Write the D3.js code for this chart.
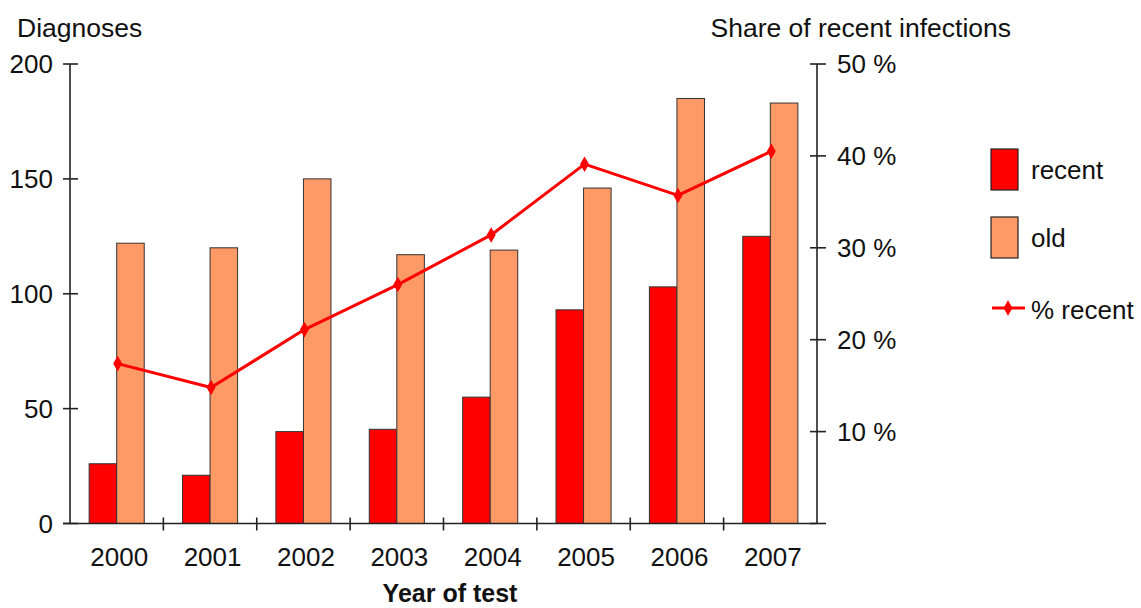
<!DOCTYPE html>
<html>
<head>
<meta charset="utf-8">
<script src="https://cdn.jsdelivr.net/npm/d3@7"></script>
<style>
  html, body { margin: 0; padding: 0; background: #fff; }
  svg { display: block; font-family: "Liberation Sans", Arial, sans-serif; }
</style>
</head>
<body>
<svg id="chart" width="1141" height="608"></svg>
<script>
const years = ["2000", "2001", "2002", "2003", "2004", "2005", "2006", "2007"];
const recent = [26, 21, 40, 41, 55, 93, 103, 125];
const old = [122, 120, 150, 117, 119, 146, 185, 183];
const pctRecent = [17.4, 14.8, 21.1, 26.0, 31.4, 39.1, 35.7, 40.5];
const leftTicks = [0, 50, 100, 150, 200];
const rightTicks = [0, 10, 20, 30, 40, 50];
const seriesNames = ["recent", "old"];
const seriesColors = ["#FF0000", "#FF9966"];
const lineColor = "#FF0000";

(function () {
const svg = d3.select("#chart");
const pLeft = 70, pRight = 817, pTop = 64, pBottom = 523.5;
const fs = 26;
const fsT = 26.5;

const x = d3.scaleBand().domain(years).range([pLeft, pRight]).paddingInner(0).paddingOuter(0);
const bw = x.bandwidth();
const xs = d3.scaleBand().domain(seriesNames).range([bw * 0.205, bw * 0.795]).padding(0);
const yL = d3.scaleLinear().domain([0, 200]).range([pBottom, pTop]);
const yR = d3.scaleLinear().domain([0, 50]).range([pBottom, pTop]);

// bars
const data = years.map((yr, i) => ({ year: yr, recent: recent[i], old: old[i] }));
const g = svg.append("g");
seriesNames.forEach((s, si) => {
  g.selectAll("rect." + s).data(data).enter().append("rect")
    .attr("class", s)
    .attr("x", d => x(d.year) + xs(s))
    .attr("width", xs.bandwidth())
    .attr("y", d => yL(d[s]))
    .attr("height", d => yL(0) - yL(d[s]))
    .attr("fill", seriesColors[si])
    .attr("stroke", "#333")
    .attr("stroke-width", 1);
});

const axisColor = "#222";
// left axis
const la = svg.append("g").attr("transform", `translate(${pLeft},0)`);
la.append("line").attr("x1", 0).attr("x2", 0).attr("y1", yL(200)).attr("y2", yL(0))
  .attr("stroke", axisColor).attr("stroke-width", 1.6);
la.selectAll("line.t").data(leftTicks).enter().append("line").attr("class", "t")
  .attr("x1", -7).attr("x2", 8).attr("y1", d => yL(d)).attr("y2", d => yL(d))
  .attr("stroke", axisColor).attr("stroke-width", 1.6);
la.selectAll("text").data(leftTicks).enter().append("text")
  .attr("x", -17).attr("y", d => yL(d)).attr("dy", "0.36em")
  .attr("text-anchor", "end").attr("font-size", fs).attr("fill", "#111")
  .text(d => d);

// right axis
const ra = svg.append("g").attr("transform", `translate(${pRight},0)`);
ra.append("line").attr("x1", 0).attr("x2", 0).attr("y1", yR(50)).attr("y2", yR(0))
  .attr("stroke", axisColor).attr("stroke-width", 1.6);
ra.selectAll("line.t").data(rightTicks).enter().append("line").attr("class", "t")
  .attr("x1", -7).attr("x2", 9).attr("y1", d => yR(d)).attr("y2", d => yR(d))
  .attr("stroke", axisColor).attr("stroke-width", 1.6);
ra.selectAll("text").data(rightTicks.filter(d => d > 0)).enter().append("text")
  .attr("x", 20).attr("y", d => yR(d)).attr("dy", "0.36em")
  .attr("text-anchor", "start").attr("font-size", fs).attr("fill", "#111")
  .text(d => d + " %");

// x axis
const xa = svg.append("g");
xa.append("line").attr("x1", pLeft - 7).attr("x2", pRight).attr("y1", pBottom).attr("y2", pBottom)
  .attr("stroke", axisColor).attr("stroke-width", 1.6);
xa.selectAll("line.t").data(years.slice(1)).enter().append("line").attr("class", "t")
  .attr("x1", d => x(d)).attr("x2", d => x(d)).attr("y1", pBottom - 6).attr("y2", pBottom + 7)
  .attr("stroke", axisColor).attr("stroke-width", 1.6);
xa.selectAll("text").data(years).enter().append("text")
  .attr("x", d => x(d) + bw / 2 + 2.5).attr("y", 566)
  .attr("text-anchor", "middle").attr("font-size", fs).attr("fill", "#111")
  .text(d => d);

// titles
svg.append("text").attr("x", 17).attr("y", 37).attr("font-size", fsT).attr("fill", "#111").text("Diagnoses");
svg.append("text").attr("x", 1011).attr("y", 37).attr("text-anchor", "end").attr("font-size", fsT).attr("fill", "#111").text("Share of recent infections");
svg.append("text").attr("x", 450).attr("y", 602).attr("text-anchor", "middle").attr("font-size", 25).attr("font-weight", "bold").attr("fill", "#111").text("Year of test");

// line
const lineData = years.map((yr, i) => ({ year: yr, v: pctRecent[i] }));
const line = d3.line().x(d => x(d.year) + bw / 2 + 1).y(d => yR(d.v));
svg.append("path").datum(lineData).attr("d", line)
  .attr("fill", "none").attr("stroke", lineColor).attr("stroke-width", 3).attr("stroke-linejoin", "round");
const diamond = d3.symbol().type(d3.symbolDiamond).size(70);
svg.selectAll("path.m").data(lineData).enter().append("path")
  .attr("class", "m")
  .attr("transform", d => `translate(${x(d.year) + bw / 2 + 1},${yR(d.v)})`)
  .attr("d", diamond).attr("fill", lineColor);

// legend
const lg = svg.append("g");
const legendItems = [
  { name: "recent", color: seriesColors[0], y: 149 },
  { name: "old", color: seriesColors[1], y: 217 }
];
legendItems.forEach(it => {
  lg.append("rect").attr("x", 991).attr("y", it.y).attr("width", 27).attr("height", 41)
    .attr("fill", it.color).attr("stroke", "#222").attr("stroke-width", 1.2);
  lg.append("text").attr("x", 1031).attr("y", it.y + 21).attr("dy", "0.36em")
    .attr("font-size", fs).attr("fill", "#111").text(it.name);
});
lg.append("line").attr("x1", 992).attr("x2", 1025).attr("y1", 308).attr("y2", 308)
  .attr("stroke", lineColor).attr("stroke-width", 3);
lg.append("path").attr("transform", "translate(1008,308)").attr("d", diamond).attr("fill", lineColor);
lg.append("text").attr("x", 1031).attr("y", 310).attr("dy", "0.36em")
  .attr("font-size", fs).attr("fill", "#111").text("% recent");
})();
</script>
</body>
</html>
